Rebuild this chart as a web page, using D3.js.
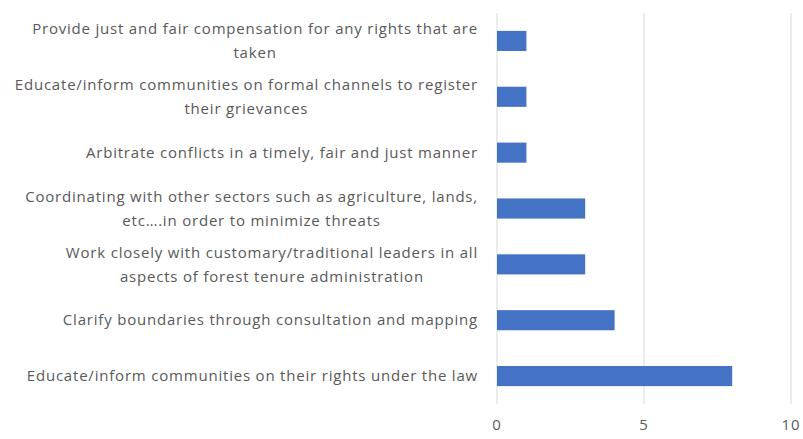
<!DOCTYPE html>
<html>
<head>
<meta charset="utf-8">
<script src="https://cdn.jsdelivr.net/npm/d3@7"></script>
<style>
  body { margin: 0; background: #fff; }
  text { font-family: "Open Sans", Lato, sans-serif; fill: #595959; }
</style>
</head>
<body>
<div class="chart"></div>
<script>
// categories, top to bottom, already wrapped like the original
const categories = [
	["Provide just and fair compensation for any rights that are", "taken"],
	["Educate/inform communities on formal channels to register", "their grievances"],
	["Arbitrate conflicts in a timely, fair and just manner"],
	["Coordinating with other sectors such as agriculture, lands,", "etc\u2026.in order to minimize threats"],
	["Work closely with customary/traditional leaders in all", "aspects of forest tenure administration"],
	["Clarify boundaries through consultation and mapping"],
	["Educate/inform communities on their rights under the law"]
];
const values = [1, 1, 1, 3, 3, 4, 8];
const xTicks = [0, 5, 10];

const width = 803;
const height = 439;
const margin = {top: 13, right: 12, bottom: 35, left: 497};

const svg = d3.select('.chart')
	.append('svg')
	.attr('width', width)
	.attr('height', height);

const x = d3.scaleLinear()
	.domain([0, 10])
	.range([margin.left, width - margin.right]);

const y = d3.scaleBand()
	.domain(d3.range(categories.length))
	.range([margin.top, height - margin.bottom])
	.paddingInner(0.64)
	.paddingOuter(0.32);

// gridlines
svg.selectAll('line.grid')
	.data(xTicks)
	.enter()
	.append('line')
	.attr('class', 'grid')
	.attr('x1', d => x(d))
	.attr('x2', d => x(d))
	.attr('y1', margin.top)
	.attr('y2', height - margin.bottom)
	.attr('stroke', '#d9d9d9')
	.attr('stroke-width', 1);

// bars
svg.selectAll('rect')
	.data(values)
	.enter()
	.append('rect')
	.attr('x', x(0))
	.attr('y', (d, i) => y(i))
	.attr('width', d => x(d) - x(0))
	.attr('height', y.bandwidth())
	.attr('fill', '#4472c4');

// x tick labels
svg.selectAll('text.tick')
	.data(xTicks)
	.enter()
	.append('text')
	.attr('class', 'tick')
	.attr('x', d => x(d))
	.attr('y', height - 9)
	.attr('text-anchor', 'middle')
	.style('font-size', '15px')
	.style('letter-spacing', '0.8px')
	.text(d => d);

// category labels, each block centred, right edge near the axis
const labelRight = margin.left - 19;
const lineGap = 24;
const groups = svg.selectAll('g.label')
	.data(categories)
	.enter()
	.append('g')
	.attr('class', 'label');

groups.each(function(lines, i) {
	const g = d3.select(this);
	const cy = y(i) + y.bandwidth() / 2;
	const texts = g.selectAll('text')
		.data(lines)
		.enter()
		.append('text')
		.style('font-size', '15px')
		.style('letter-spacing', '0.8px')
		.attr('dy', '0.35em')
		.attr('y', (d, j) => cy + (j - (lines.length - 1) / 2) * lineGap)
		.text(d => d);
	let maxW = 0;
	texts.each(function() { maxW = Math.max(maxW, this.getComputedTextLength()); });
	texts.attr('x', labelRight - maxW / 2).attr('text-anchor', 'middle');
});
</script>
</body>
</html>
